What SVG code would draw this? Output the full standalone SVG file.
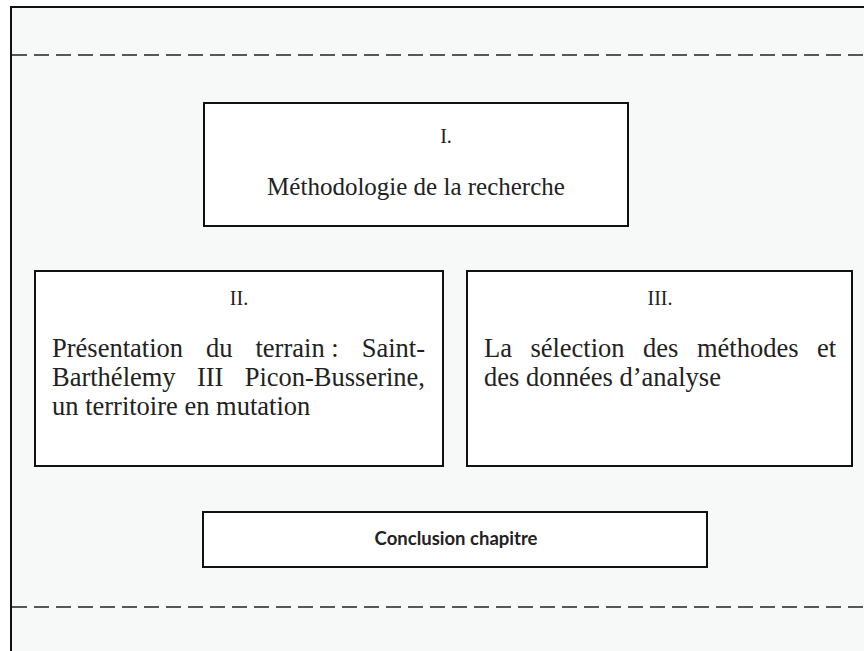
<svg xmlns="http://www.w3.org/2000/svg" width="864" height="651" viewBox="0 0 864 651">
<style>
.frame{fill:#f7f8f8;stroke:#111;stroke-width:2}
.sep{stroke:#222;stroke-width:1.6;stroke-dasharray:15 7;fill:none}
.box{fill:#fff;stroke:#111;stroke-width:2}
.b{font-family:"Liberation Serif","Times New Roman",serif;font-size:26.5px;fill:#222}
.m{font-family:"Liberation Serif","Times New Roman",serif;font-size:25px;fill:#222}
.num{font-family:"Liberation Serif","Times New Roman",serif;font-size:20px;fill:#222;text-anchor:middle}
.concl{font-family:Lato,"Open Sans",sans-serif;font-weight:bold;font-size:18.5px;fill:#222;text-anchor:middle}
</style>
<rect class="frame" x="11" y="7" width="870" height="660"/>
<g id="connectors">
<line class="sep" x1="12" y1="55" x2="864" y2="55"/>
<line class="sep" x1="12" y1="607" x2="864" y2="607"/>
</g>
<g id="node-1">
<rect class="box" x="204" y="103" width="424" height="123"/>
<text class="num" x="446" y="143">I.</text>
<text class="m" x="416" y="195" text-anchor="middle">Méthodologie de la recherche</text>
</g>
<g id="node-2">
<rect class="box" x="35" y="271" width="408" height="195"/>
<text class="num" x="239" y="305">II.</text>
<text class="b" y="357"><tspan x="52">Présentation</tspan><tspan x="206">du</tspan><tspan x="255.5">terrain :</tspan></text>
<text class="b" x="425" y="357" text-anchor="end">Saint-</text>
<text class="b" y="386"><tspan x="52">Barthélemy</tspan><tspan x="196.9">III</tspan></text>
<text class="b" x="425" y="386" text-anchor="end">Picon-Busserine,</text>
<text class="b" x="52" y="415">un territoire en mutation</text>
</g>
<g id="node-3">
<rect class="box" x="467" y="271" width="385" height="195"/>
<text class="num" x="660" y="305">III.</text>
<text class="b" y="357"><tspan x="484">La</tspan><tspan x="530.4">sélection</tspan><tspan x="643.1">des</tspan><tspan x="696.9">méthodes</tspan></text>
<text class="b" x="836" y="357" text-anchor="end">et</text>
<text class="b" x="484" y="386">des données d’analyse</text>
</g>
<g id="node-4">
<rect class="box" x="203" y="512" width="504" height="55"/>
<text class="concl" x="456" y="545">Conclusion chapitre</text>
</g>
</svg>
